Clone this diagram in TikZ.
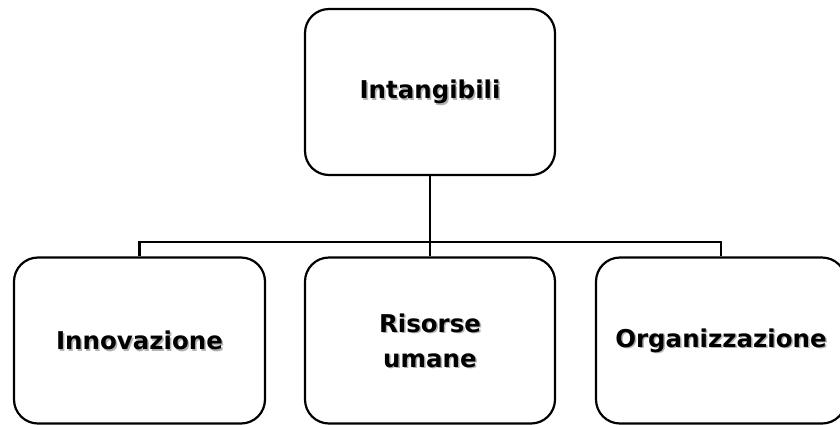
\documentclass[tikz,border=0pt]{standalone}
\usepackage{fontspec}
\setmainfont{DejaVu Sans}
\begin{document}
\begin{tikzpicture}[x=1pt,y=-1pt,
  box/.style={draw, line width=2.2pt, rounded corners=24pt,
    minimum width=250pt, minimum height=166pt, inner sep=0pt},
  lbl/.style={align=center, font=\bfseries\fontsize{24.5}{35}\selectfont},
  shade/.style={lbl, text=black!30},
  link/.style={line width=2.2pt}]
  \useasboundingbox (0,0) rectangle (840,424);

  % soft shadow under the labels
  \foreach \p/\t in {{430,92}/Intangibili, {139.5,340.5}/Innovazione,
      {430,340.5}/{Risorse\\umane}, {721,340.5}/Organizzazione}
    \node[shade] at ([shift={(1.5,1.5)}]\p) {\t};

  % boxes
  \node[box, lbl] (top) at (430,92) {Intangibili};
  \node[box, lbl, minimum width=251pt] (inn) at (139.5,340.5) {Innovazione};
  \node[box, lbl] (ris) at (430,340.5) {Risorse\\umane};
  \node[box, lbl] (org) at (721,340.5) {Organizzazione};

  % tree connectors
  \coordinate (busL) at (139.5,242);
  \coordinate (busR) at (721,242);
  \draw[link] (top.south) -- (ris.north);
  \draw[link] (inn.north) -- (busL) -- (busR) -- (org.north);
\end{tikzpicture}
\end{document}
